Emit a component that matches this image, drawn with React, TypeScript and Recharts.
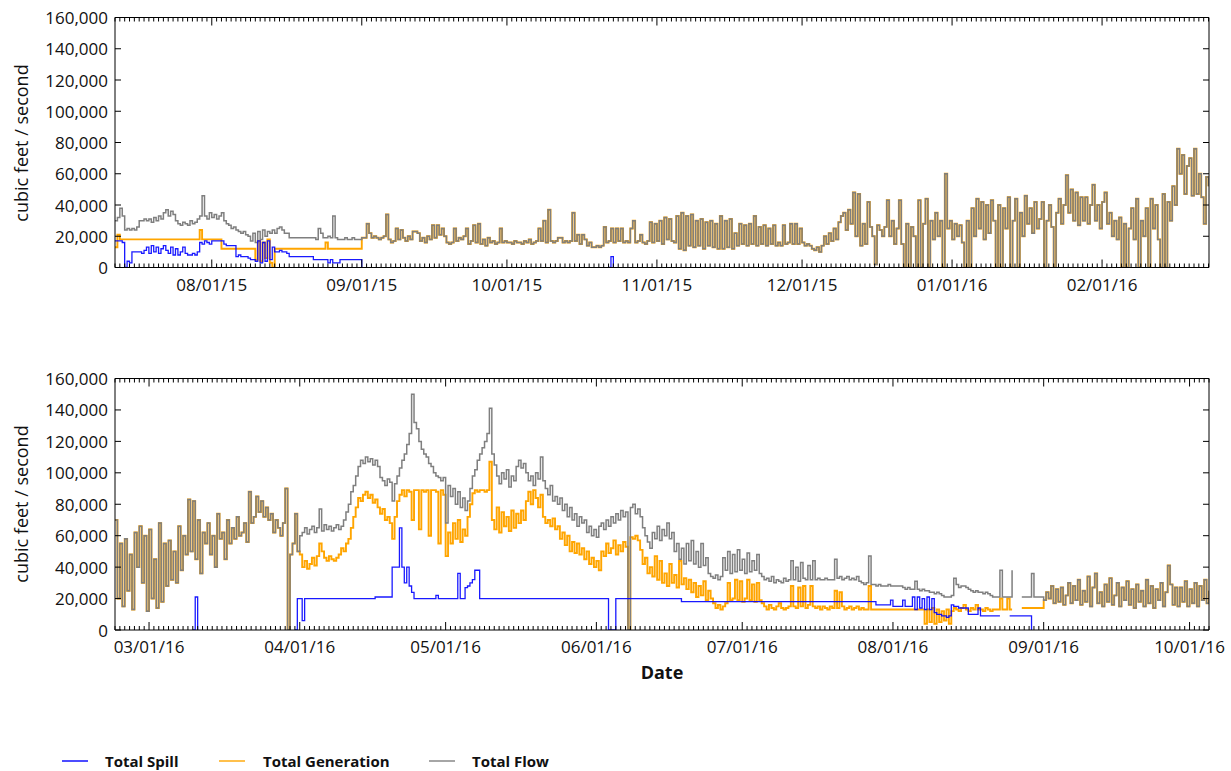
import React from "react";
import { LineChart, Line, XAxis, YAxis } from "recharts";

// readings in thousands of cfs, one every half day
const STEP = 0.5;
const ORIGIN = Date.UTC(2015, 6, 12);
const FONT = "'Open Sans', 'DejaVu Sans', sans-serif";

const topMonths = ["2015-08-01", "2015-09-01", "2015-10-01", "2015-11-01", "2015-12-01", "2016-01-01", "2016-02-01"];
const bottomMonths = ["2016-03-01", "2016-04-01", "2016-05-01", "2016-06-01", "2016-07-01", "2016-08-01", "2016-09-01", "2016-10-01"];
const yTicks = [0, 20000, 40000, 60000, 80000, 100000, 120000, 140000, 160000];

// top panel, Jul 12 2015 -> Feb 23 2016
const flowTopEarly = [
  30, 32, 38, 33, 24, 25, 24, 25, 24, 26, 30, 30, 31, 30, 31, 29, 32, 30, 33, 31,
  35, 37, 33, 36, 34, 30, 28, 27, 29, 28, 27, 30, 28, 29, 31, 33, 46, 33, 31, 35,
  32, 34, 31, 33, 35, 30, 28, 27, 25, 26, 24, 23, 22, 23, 21, 20, 17, 22, 16, 23,
  18, 24, 20, 23, 22, 24, 22, 25, 26, 24, 22, 22, 19, 19, 19, 19, 19, 19, 19, 19,
  19, 19, 19, 18, 25, 22, 19, 19, 20, 19, 33, 19, 18, 18, 18, 19, 18, 18, 19, 18,
  18, 18,
];
const genTopEarly = [
  13, 21, 18, 18, 18, 18, 18, 18, 18, 18, 18, 18, 18, 18, 18, 18, 18, 18, 18, 18,
  18, 18, 18, 18, 18, 18, 18, 18, 18, 18, 18, 18, 18, 18, 18, 24, 18, 18, 18, 18,
  18, 18, 18, 18, 12, 12, 12, 12, 12, 12, 12, 12, 12, 12, 12, 12, 12, 12, 5, 17,
  4, 16, 6, 18, 3, 0, 12, 12, 12, 12, 12, 12, 12, 12, 12, 12, 12, 12, 12, 12,
  12, 12, 12, 12, 12, 12, 12, 16, 12, 12, 12, 12, 12, 12, 12, 12, 12, 12, 12, 12,
  12, 12,
];
// from Sep 1 2015 generation and total flow read the same
const sharedTop = [
  19, 19, 28, 22, 19, 20, 19, 18, 19, 20, 34, 18, 16, 17, 25, 18, 24, 19, 17, 20,
  18, 23, 23, 22, 17, 19, 16, 20, 18, 27, 19, 27, 21, 25, 20, 16, 15, 16, 25, 17,
  19, 18, 20, 25, 15, 17, 27, 16, 28, 15, 18, 14, 19, 16, 17, 15, 16, 25, 16, 17,
  16, 16, 15, 17, 16, 16, 15, 17, 16, 18, 15, 16, 17, 25, 17, 30, 16, 37, 17, 16,
  17, 19, 19, 16, 17, 16, 17, 35, 17, 21, 15, 21, 18, 14, 16, 13, 13, 14, 13, 14,
  26, 16, 17, 25, 16, 25, 17, 25, 16, 17, 16, 25, 30, 16, 17, 21, 16, 15, 17, 29,
  16, 28, 17, 30, 15, 32, 18, 31, 17, 16, 33, 12, 35, 11, 33, 14, 34, 13, 30, 14,
  31, 12, 29, 14, 30, 13, 28, 12, 33, 12, 30, 13, 31, 12, 22, 14, 28, 15, 27, 14,
  28, 15, 33, 14, 26, 15, 27, 14, 25, 15, 27, 14, 16, 14, 27, 15, 16, 28, 15, 28,
  15, 25, 16, 14, 15, 14, 12, 11, 13, 10, 14, 20, 15, 22, 17, 25, 18, 29, 33, 35,
  24, 37, 28, 48, 20, 47, 14, 28, 15, 42, 26, 20, 2, 27, 24, 20, 26, 43, 20, 30,
  15, 25, 43, 15, 0, 28, 0, 26, 20, 0, 43, 0, 28, 44, 0, 30, 18, 35, 20, 30,
  0, 60, 25, 30, 18, 28, 20, 27, 16, 0, 30, 0, 38, 20, 44, 25, 42, 18, 40, 22,
  43, 30, 0, 40, 0, 38, 25, 45, 0, 30, 44, 0, 35, 20, 46, 28, 38, 22, 42, 25,
  31, 42, 0, 30, 40, 26, 0, 35, 44, 28, 40, 59, 35, 50, 30, 48, 27, 45, 30, 45,
  28, 40, 53, 30, 40, 25, 42, 48, 28, 35, 20, 30, 18, 32, 0, 28, 0, 25, 38, 18,
  44, 0, 30, 20, 38, 0, 44, 25, 40, 18, 0, 47, 0, 42, 30, 52, 40, 76, 60, 72,
  47, 65, 70, 46, 76, 47, 60, 45, 28, 58, 52,
];
const spillTop = [
  17, 17, 17, 16, 0, 4, 3, 10, 10, 10, 10, 9, 11, 13, 9, 14, 10, 13, 9, 12,
  14, 11, 9, 13, 8, 12, 8, 10, 13, 9, 8, 8, 9, 8, 10, 16, 15, 17, 16, 15,
  17, 17, 17, 17, 17, 15, 14, 14, 14, 14, 7, 8, 7, 7, 7, 6, 5, 5, 4, 17,
  3, 16, 4, 17, 5, 13, 10, 10, 11, 10, 10, 9, 7, 7, 7, 7, 7, 7, 7, 7,
  7, 7, 5, 5, 5, 5, 5, 5, 3, 5, 3, 3, 3, 5, 5, 5, 5, 5, 5, 5,
  5, 5, 0,
];
const spillTopBlip = [0, 7, 0];

// bottom panel, Feb 23 2016 -> Oct 5 2016
const sharedBotA = [
  70, 20, 55, 15, 58, 25, 48, 13, 62, 40, 66, 30, 60, 12, 64, 20, 45, 14, 68, 18,
  55, 28, 57, 32, 50, 30, 66, 38, 60, 48, 83, 50, 82, 45, 70, 36, 62, 55, 68, 48,
  60, 40, 74, 58, 62, 45, 70, 55, 65, 58, 72, 60, 62, 68, 56, 88, 68, 72, 85, 75,
  82, 72, 78, 70, 74, 62, 70, 65, 60, 68, 90, 0, 48, 55, 74, 50,
];
const flowBotMid = [
  60, 62, 65, 61, 64, 66, 62, 65, 77, 63, 67, 64, 66, 63, 65, 67, 64, 66, 70, 75,
  80, 88, 92, 98, 104, 108, 106, 110, 107, 109, 105, 108, 104, 97, 95, 92, 96, 94, 82, 93,
  98, 103, 108, 112, 118, 125, 150, 132, 128, 120, 115, 112, 110, 106, 104, 100, 98, 97, 95, 97,
  68, 92, 85, 90, 80, 88, 78, 84, 76, 82, 90, 98, 102, 108, 112, 116, 120, 125, 141, 112,
  105, 98, 93, 100, 96, 102, 91, 98, 95, 104, 108, 103, 106, 100, 95, 98, 92, 100, 96, 110,
  95, 90, 86, 92, 82, 85, 80, 84, 76, 80, 72, 78, 70, 74, 66, 72, 68, 70, 62, 66,
  60, 64, 59, 66, 68, 64, 70, 66, 72, 68, 74, 70, 76, 72, 75, 0, 78, 80, 74, 77,
  72, 65, 60, 56, 52, 62, 58, 66, 57, 64, 60, 68, 58, 62, 50, 55, 45, 52, 42, 55,
  44, 57, 42, 50, 40, 55, 41, 46, 36, 34, 33, 35, 32, 34, 46, 38, 50, 36, 48, 37,
  51, 38, 45, 36, 49, 37, 44, 38, 48, 36, 34, 32, 33, 31, 34, 30, 32, 31, 30, 33,
  31, 32, 44, 32, 40, 31, 43, 33, 32, 41, 32, 44, 32, 33, 32, 32, 33, 32, 32, 32,
  45, 33, 34, 32, 33, 34, 32, 33, 32, 34, 31, 30, 29, 30, 47, 29, 29, 28, 29, 28,
  28, 28, 29, 28, 28, 28, 28, 28, 27, 26, 27, 26, 26, 31, 26, 25, 26, 25, 25, 24,
  24, 23, 24, 23, 22, 21, 21, 21, 22, 33, 29, 27, 28, 28, 27, 26, 25, 24, 25, 24,
  24, 23, 24, 23, 22, 21, 21, 21, 38, 21, 21, 21, 21, 38, null, null, null, 21, 21, 21,
  21, 36, 21, 21, 21, 21,
];
const genBotMid = [
  48, 40, 44, 39, 42, 46, 41, 47, 55, 50, 46, 44, 47, 45, 44, 46, 48, 52, 50, 55,
  58, 65, 72, 78, 84, 82, 86, 88, 84, 86, 81, 83, 78, 74, 77, 70, 72, 68, 58, 72,
  82, 86, 89, 85, 89, 88, 70, 89, 89, 64, 89, 88, 89, 60, 89, 89, 88, 55, 89, 86,
  47, 62, 55, 68, 58, 70, 56, 64, 60, 72, 80, 87, 89, 88, 89, 89, 88, 89, 107, 70,
  64, 78, 62, 75, 66, 72, 63, 76, 65, 74, 68, 76, 70, 82, 88, 80, 89, 84, 78, 86,
  72, 68, 70, 66, 71, 64, 66, 58, 62, 54, 60, 50, 56, 49, 55, 48, 52, 45, 50, 42,
  46, 40, 44, 38, 50, 47, 55, 49, 52, 57, 48, 54, 50, 56, 53, 0, 59, 58, 60, 57,
  51, 42, 46, 36, 40, 34, 47, 32, 44, 30, 36, 28, 42, 30, 35, 27, 44, 29, 33, 26,
  32, 24, 30, 21, 28, 22, 31, 19, 25, 20, 17, 14, 16, 13, 15, 17, 30, 19, 20, 32,
  19, 31, 18, 20, 32, 19, 29, 18, 30, 19, 17, 15, 13, 16, 14, 13, 15, 17, 14, 13,
  14, 15, 28, 15, 14, 27, 15, 28, 14, 16, 28, 15, 14, 15, 13, 15, 14, 13, 15, 14,
  25, 14, 24, 15, 13, 14, 15, 13, 14, 15, 13, 14, 13, 13, 28, 13, 13, 13, 13, 13,
  13, 13, 13, 13, 13, 13, 13, 13, 13, 13, 13, 13, 13, 13, 13, 13, 13, 4, 13, 5,
  14, 4, 13, 5, 12, 6, 13, 4, 12, 14, 13, 12, 14, 16, 13, 12, 14, 13, 16, 13,
  13, 12, 14, 13, 12, 13, 13, 13, 20, 13, 13, 20, 13, 13, null, null, null, 14, 14, 14,
  14, 14, 14, 14, 14, 14,
];
const sharedBotB = [
  19, 24, 20, 28, 17, 26, 18, 27, 16, 22, 30, 17, 28, 19, 32, 16, 25, 18, 34, 15,
  27, 36, 17, 24, 15, 29, 18, 33, 16, 22, 30, 15, 27, 19, 31, 16, 26, 14, 29, 18,
  25, 15, 32, 17, 28, 14, 26, 19, 30, 15, 24, 41, 29, 16, 27, 15, 27, 18, 31, 15,
  26, 17, 30, 15, 28, 19, 32, 17, 25,
];
const spillBotBlip = [0, 21, 0];
const spillBot = [
  0, 20, 20, 6, 20, 20, 20, 20, 20, 20, 20, 20, 20, 20, 20, 20, 20, 20, 20, 20,
  20, 20, 20, 20, 20, 20, 20, 20, 20, 20, 20, 20, 20, 21, 21, 21, 21, 21, 21, 21,
  40, 40, 40, 65, 40, 30, 40, 28, 24, 20, 20, 20, 20, 20, 20, 20, 20, 20, 22, 20,
  20, 20, 20, 20, 20, 20, 20, 36, 20, 20, 27, 28, 30, 32, 38, 38, 20, 20, 20, 20,
  20, 20, 20, 20, 20, 20, 20, 20, 20, 20, 20, 20, 20, 20, 20, 20, 20, 20, 20, 20,
  20, 20, 20, 20, 20, 20, 20, 20, 20, 20, 20, 20, 20, 20, 20, 20, 20, 20, 20, 20,
  20, 20, 20, 20, 20, 20, 20, 20, 20, 0, 0, 0, 20, 20, 20, 20, 20, 20, 20, 20,
  20, 20, 20, 20, 20, 20, 20, 20, 20, 20, 20, 20, 20, 20, 20, 20, 20, 20, 20, 18,
  18, 18, 18, 18, 18, 18, 18, 18, 18, 18, 18, 18, 18, 18, 18, 18, 18, 18, 18, 18,
  18, 18, 18, 18, 18, 18, 18, 18, 18, 18, 18, 18, 18, 18, 18, 18, 18, 18, 18, 18,
  18, 18, 18, 18, 18, 18, 18, 18, 18, 18, 18, 18, 18, 18, 18, 18, 18, 18, 18, 18,
  18, 18, 18, 18, 18, 18, 18, 18, 18, 18, 18, 18, 18, 18, 18, 18, 18, 18, 18, 16,
  16, 16, 16, 16, 16, 19, 15, 15, 15, 15, 19, 15, 15, 15, 21, 13, 21, 14, 20, 13,
  21, 13, 20, 11, 10, 10, 9, 9, 8, 9, 16, 15, 15, 14, 14, 14, 14, 10, 10, 10,
  10, 14, 9, 9, 9, 9, 9, 9, 9, 9, 9, null, null, null, 9, 9, 9, 9, 9, 9,
  9, 9, 9, 0,
];

const dayOf = (iso: string) => Math.round((Date.parse(iso + "T00:00:00Z") - ORIGIN) / 86400000);
const fmt = (iso: string) => {
  const [y, m, d] = iso.split("-");
  return `${m}/${d}/${y.slice(2)}`;
};

type Seg = [string, (number | null)[]];
type Pt = { d: number; v: number | null };

// gap=true breaks the line between segments
function points(segs: Seg[], gap = false): Pt[] {
  const out: Pt[] = [];
  segs.forEach(([start, vals], k) => {
    const s = dayOf(start);
    if (gap && k > 0) out.push({ d: s - 0.25, v: null });
    vals.forEach((v, i) => out.push({ d: s + i * STEP, v: v === null ? null : v * 1000 }));
  });
  return out;
}

const topFlow = points([["2015-07-12", flowTopEarly], ["2015-09-01", sharedTop]]);
const topGen = points([["2015-07-12", genTopEarly], ["2015-09-01", sharedTop]]);
const topSpill = points([["2015-07-12", spillTop], ["2015-10-22", spillTopBlip]], true);

const botFlow = points([["2016-02-23", sharedBotA], ["2016-04-01", flowBotMid], ["2016-09-01", sharedBotB]]);
const botGen = points([["2016-02-23", sharedBotA], ["2016-04-01", genBotMid], ["2016-09-01", sharedBotB]]);
const botSpill = points([["2016-03-10", spillBotBlip], ["2016-03-31", spillBot]], true);

const axisText = { fontFamily: FONT, fontSize: 17, fill: "#111" };
const PLOT_W = 1094;

function Panel(props: {
  top: number;
  domain: [number, number];
  months: string[];
  plotH: number;
  flow: Pt[];
  gen: Pt[];
  spill: Pt[];
}) {
  const { top, domain, months, plotH, flow, gen, spill } = props;
  const labels = new Map(months.map((m) => [dayOf(m), fmt(m)]));
  const days: number[] = [];
  for (let d = Math.ceil(domain[0]); d <= domain[1]; d++) days.push(d);

  // ticks point inward on all four sides of the frame
  const bottomTick = (p: any) => {
    const label = labels.get(p.payload.value);
    const len = label ? 8 : 4;
    return (
      <g>
        <line x1={p.x} x2={p.x} y1={p.y} y2={p.y - len} stroke="#000" />
        <line x1={p.x} x2={p.x} y1={p.y - plotH} y2={p.y - plotH + len} stroke="#000" />
        {label && (
          <text x={p.x} y={p.y + 16.5} textAnchor="middle" dominantBaseline="central" style={axisText}>
            {label}
          </text>
        )}
      </g>
    );
  };
  const leftTick = (p: any) => (
    <g>
      <line x1={p.x} x2={p.x + 6} y1={p.y} y2={p.y} stroke="#000" />
      <line x1={p.x + PLOT_W} x2={p.x + PLOT_W - 6} y1={p.y} y2={p.y} stroke="#000" />
      <text x={p.x - 7} y={p.y} textAnchor="end" dominantBaseline="central" style={axisText}>
        {Number(p.payload.value).toLocaleString("en-US")}
      </text>
    </g>
  );

  return (
    <div style={{ position: "absolute", left: 0, top }}>
      <LineChart width={1231} height={300} margin={{ top: 16.5, right: 21, bottom: 0, left: 0 }}>
        <XAxis
          xAxisId="b"
          type="number"
          dataKey="d"
          domain={domain}
          ticks={days}
          interval={0}
          allowDataOverflow
          height={300 - 17.5 - plotH}
          tickSize={0}
          tickMargin={0}
          tickLine={false}
          axisLine={{ stroke: "#000" }}
          tick={bottomTick}
        />
        <XAxis
          xAxisId="t"
          orientation="top"
          type="number"
          dataKey="d"
          domain={domain}
          allowDataOverflow
          height={1}
          tickLine={false}
          axisLine={{ stroke: "#000" }}
          tick={false}
        />
        <YAxis
          yAxisId="l"
          type="number"
          domain={[0, 160000]}
          ticks={yTicks}
          interval={0}
          allowDataOverflow
          width={115}
          tickSize={0}
          tickMargin={0}
          tickLine={false}
          axisLine={{ stroke: "#000" }}
          tick={leftTick}
        />
        <YAxis
          yAxisId="r"
          orientation="right"
          type="number"
          domain={[0, 160000]}
          allowDataOverflow
          width={1}
          tickLine={false}
          axisLine={{ stroke: "#000" }}
          tick={false}
        />
        <Line xAxisId="b" yAxisId="l" data={gen} dataKey="v" type="stepAfter" stroke="#ffa500" strokeWidth={1.9} dot={false} activeDot={false} isAnimationActive={false} />
        <Line xAxisId="b" yAxisId="l" data={flow} dataKey="v" type="stepAfter" stroke="#7f7f7f" strokeWidth={1.5} dot={false} activeDot={false} isAnimationActive={false} />
        <Line xAxisId="b" yAxisId="l" data={spill} dataKey="v" type="stepAfter" stroke="#0000ff" strokeOpacity={0.9} strokeWidth={1.3} dot={false} activeDot={false} isAnimationActive={false} />
      </LineChart>
    </div>
  );
}

const yLabel = (cy: number): React.CSSProperties => ({
  position: "absolute",
  left: 21,
  top: cy,
  transform: "translate(-50%, -50%) rotate(-90deg)",
  whiteSpace: "nowrap",
  fontSize: 18,
  color: "#111",
});

const legendItems = [
  { name: "Total Spill", color: "rgba(0,0,255,0.7)", line: 62, text: 105 },
  { name: "Total Generation", color: "rgba(255,165,0,0.7)", line: 219, text: 263 },
  { name: "Total Flow", color: "rgba(128,128,128,0.7)", line: 429, text: 472 },
];

export default function App() {
  const topDomain: [number, number] = [0, 226.1];
  const botStart = dayOf("2016-02-23");
  const botDomain: [number, number] = [botStart, botStart + 225];
  return (
    <div style={{ position: "absolute", left: 0, top: 0, width: 1231, height: 771, background: "#fff", fontFamily: FONT }}>
      <Panel top={0} domain={topDomain} months={topMonths} plotH={250} flow={topFlow} gen={topGen} spill={topSpill} />
      <Panel top={361} domain={botDomain} months={bottomMonths} plotH={251.5} flow={botFlow} gen={botGen} spill={botSpill} />
      <div style={yLabel(142.5)}>cubic feet / second</div>
      <div style={yLabel(504)}>cubic feet / second</div>
      <div style={{ position: "absolute", left: 662, top: 672, transform: "translate(-50%, -50%)", fontSize: 18, fontWeight: 700, color: "#111" }}>
        Date
      </div>
      {legendItems.map((it) => (
        <React.Fragment key={it.name}>
          <div style={{ position: "absolute", left: it.line, top: 760, width: 26, height: 2, background: it.color }} />
          <div style={{ position: "absolute", left: it.text, top: 761, transform: "translateY(-50%)", fontSize: 15, fontWeight: 700, color: "#111", whiteSpace: "nowrap" }}>
            {it.name}
          </div>
        </React.Fragment>
      ))}
    </div>
  );
}
